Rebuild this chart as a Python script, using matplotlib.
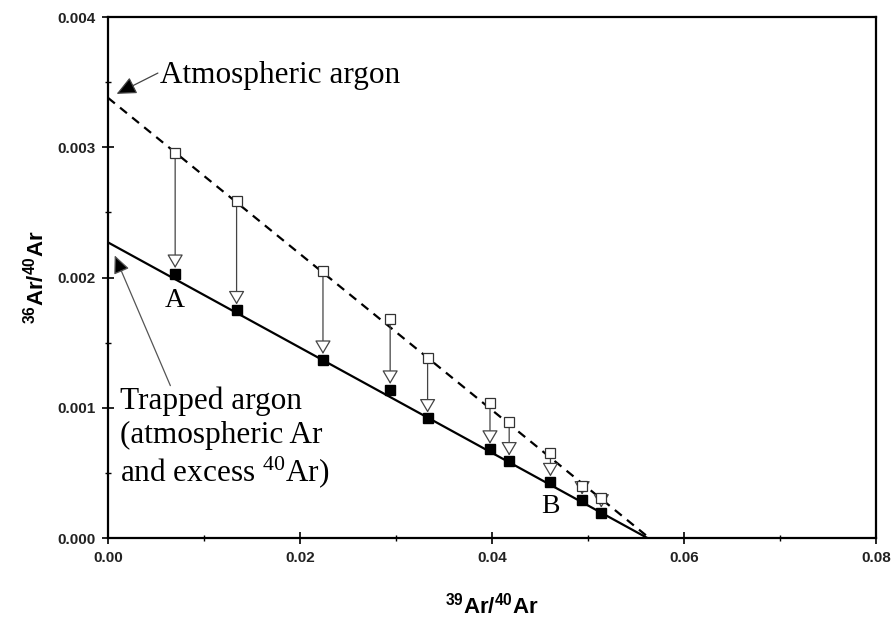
import matplotlib
matplotlib.use("Agg")
import matplotlib.pyplot as plt
from matplotlib.ticker import MultipleLocator, FormatStrFormatter

# data
x_pts = [0.0070, 0.0134, 0.0224, 0.0294, 0.0333, 0.0398, 0.0418, 0.0461, 0.0494, 0.0514]
atm_pts = [0.00296, 0.00259, 0.00205, 0.00168, 0.00138, 0.00104, 0.00089, 0.00065, 0.00040, 0.00031]
trap_pts = [0.00203, 0.00175, 0.00137, 0.00114, 0.00092, 0.00068, 0.00059, 0.00043, 0.00029, 0.00019]

atm_line_x = [0.0, 0.0564]
atm_line_y = [0.00338, 0.0]
trap_line_x = [0.0, 0.0562]
trap_line_y = [0.00227, 0.0]

plt.rcParams['mathtext.default'] = 'regular'
serif = 'Liberation Serif'
sans = 'Liberation Sans'

fig = plt.figure(figsize=(8.96, 6.18), dpi=100)
ax = fig.add_axes([0.1205, 0.1294, 0.857, 0.843])

ax.plot(atm_line_x, atm_line_y, color='black', lw=1.6, dashes=(4, 3), zorder=2)
ax.plot(trap_line_x, trap_line_y, color='black', lw=1.6, zorder=2)

# arrows from atmospheric to trapped
for x, ya, yt in zip(x_pts, atm_pts, trap_pts):
    ax.annotate('', xy=(x, yt), xytext=(x, ya),
                arrowprops=dict(arrowstyle='-|>,head_length=0.85,head_width=0.5',
                                fc='white', ec='#444444', lw=0.9,
                                shrinkA=0, shrinkB=4),
                zorder=3)

ax.plot(x_pts, atm_pts, 's', ms=7.5, mfc='white', mec='#333333', mew=0.9, zorder=4)
ax.plot(x_pts, trap_pts, 's', ms=7.5, mfc='black', mec='black', zorder=4)

ax.text(x_pts[0], trap_pts[0] - 0.00011, 'A', family=serif, fontsize=20,
        ha='center', va='top')
ax.text(x_pts[7], trap_pts[7] - 0.00009, 'B', family=serif, fontsize=20,
        ha='center', va='top')

ax.text(0.0054, 0.00355, 'Atmospheric argon', family=serif, fontsize=22.5,
        va='center', ha='left')
ax.annotate('', xy=(0.0009, 0.00341), xytext=(0.0052, 0.00357),
            arrowprops=dict(arrowstyle='-|>,head_length=1.2,head_width=0.55',
                            fc='black', ec='#444444', lw=0.9, mutation_scale=10,
                            shrinkA=0, shrinkB=0))

ax.annotate('', xy=(0.0007, 0.00217), xytext=(0.0065, 0.00117),
            arrowprops=dict(arrowstyle='-|>,head_length=1.1,head_width=0.5',
                            fc='black', ec='#555555', lw=0.9, mutation_scale=10,
                            shrinkA=0, shrinkB=0))
ax.text(0.0013, 0.00116, 'Trapped argon\n(atmospheric Ar\nand excess $^{40}$Ar)',
        family=serif, fontsize=22.5, ha='left', va='top', linespacing=1.18)

ax.set_xlim(0, 0.08)
ax.set_ylim(0, 0.004)
ax.xaxis.set_major_locator(MultipleLocator(0.02))
ax.xaxis.set_minor_locator(MultipleLocator(0.01))
ax.yaxis.set_major_locator(MultipleLocator(0.001))
ax.yaxis.set_minor_locator(MultipleLocator(0.0005))
ax.xaxis.set_major_formatter(FormatStrFormatter('%.2f'))
ax.yaxis.set_major_formatter(FormatStrFormatter('%.3f'))

ax.tick_params(which='major', direction='inout', length=8, width=1.2, pad=5)
ax.tick_params(which='minor', direction='inout', length=4, width=1.0)
for lab in ax.get_xticklabels() + ax.get_yticklabels():
    lab.set_family(sans)
    lab.set_fontweight('bold')
    lab.set_fontsize(11)
    lab.set_color('#222222')

for sp in ax.spines.values():
    sp.set_linewidth(1.6)

ax.set_xlabel('$^{39}$Ar/$^{40}$Ar', family=sans, fontweight='bold', fontsize=16, labelpad=20)
ax.set_ylabel('$^{36}$Ar/$^{40}$Ar', family=sans, fontweight='bold', fontsize=16, labelpad=6)

fig.savefig('out.png', dpi=100)
